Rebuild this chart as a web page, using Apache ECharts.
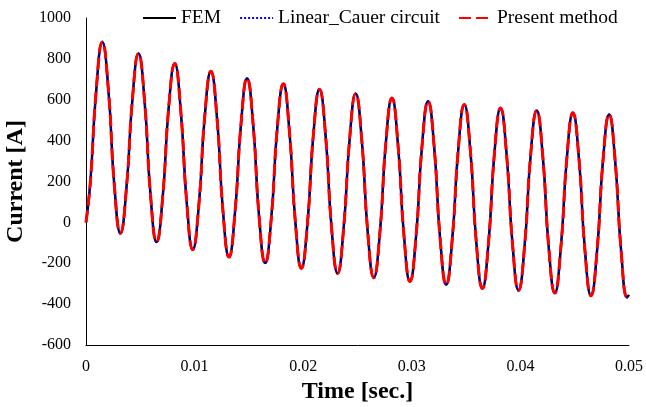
<!DOCTYPE html>
<html>
<head>
<meta charset="utf-8">
<script src="https://cdn.jsdelivr.net/npm/echarts@6/dist/echarts.min.js"></script>
<style>
html,body{margin:0;padding:0;background:#fff;}
#chart{width:646px;height:407px;}
</style>
</head>
<body>
<div id="chart"></div>
<script>
// Time samples [s]
const timeSec = [0, 0.00039, 0.00094, 0.00150, 0.00206, 0.00261, 0.00317, 0.00372, 0.00428, 0.00483, 0.00539, 0.00594, 0.00650, 0.00706, 0.00761, 0.00817, 0.00872, 0.00928, 0.00983, 0.01039, 0.01094, 0.01150, 0.01206, 0.01261, 0.01317, 0.01372, 0.01428, 0.01483, 0.01539, 0.01594, 0.01650, 0.01706, 0.01761, 0.01817, 0.01872, 0.01928, 0.01983, 0.02039, 0.02094, 0.02150, 0.02206, 0.02261, 0.02317, 0.02372, 0.02428, 0.02483, 0.02539, 0.02594, 0.02650, 0.02706, 0.02761, 0.02817, 0.02872, 0.02928, 0.02983, 0.03039, 0.03094, 0.03150, 0.03206, 0.03261, 0.03317, 0.03372, 0.03428, 0.03483, 0.03539, 0.03594, 0.03650, 0.03706, 0.03761, 0.03817, 0.03872, 0.03928, 0.03983, 0.04039, 0.04094, 0.04150, 0.04206, 0.04261, 0.04317, 0.04372, 0.04428, 0.04483, 0.04539, 0.04594, 0.04650, 0.04706, 0.04761, 0.04817, 0.04872, 0.04928, 0.04983, 0.05000];

// Current [A]
const femCurrent = [0, 190, 645, 883, 649, 180, -54, 166, 606, 826, 596, 135, -96, 122, 559, 777, 549, 94, -134, 85, 522, 740, 513, 58, -170, 49, 486, 705, 479, 27, -199, 20, 459, 678, 452, 1, -225, -6, 432, 651, 426, -25, -250, -30, 410, 630, 405, -46, -271, -51, 389, 609, 385, -65, -289, -69, 373, 593, 369, -81, -305, -85, 357, 577, 352, -98, -323, -102, 339, 560, 337, -110, -333, -113, 327, 547, 324, -123, -346, -126, 316, 536, 312, -135, -359, -137, 306, 528, 304, -143, -367, -355];
const cauerCurrent = [0, 190, 645, 883, 649, 180, -54, 166, 606, 826, 596, 135, -96, 122, 559, 777, 549, 94, -134, 85, 522, 740, 513, 58, -170, 49, 486, 705, 479, 27, -199, 20, 459, 678, 452, 1, -225, -6, 432, 651, 426, -25, -250, -30, 410, 630, 405, -46, -271, -51, 389, 609, 385, -65, -289, -69, 373, 593, 369, -81, -305, -85, 357, 577, 352, -98, -323, -102, 339, 560, 337, -110, -333, -113, 327, 547, 324, -123, -346, -126, 316, 536, 312, -135, -359, -137, 306, 528, 304, -143, -367, -355];
const presentCurrent = [0, 190, 645, 883, 649, 180, -54, 166, 606, 826, 596, 135, -96, 122, 559, 777, 549, 94, -134, 85, 522, 740, 513, 58, -170, 49, 486, 705, 479, 27, -199, 20, 459, 678, 452, 1, -225, -6, 432, 651, 426, -25, -250, -30, 410, 630, 405, -46, -271, -51, 389, 609, 385, -65, -289, -69, 373, 593, 369, -81, -305, -85, 357, 577, 352, -98, -323, -102, 339, 560, 337, -110, -333, -113, 327, 547, 324, -123, -346, -126, 316, 536, 312, -135, -359, -137, 306, 528, 304, -143, -367, -355];

const seriesNames = ['FEM', 'Linear_Cauer circuit', 'Present method'];
const xTicks = [0, 0.01, 0.02, 0.03, 0.04, 0.05];
const yTicks = [-600, -400, -200, 0, 200, 400, 600, 800, 1000];

const FONT = '"Liberation Serif", "Times New Roman", serif';
function pairs(vals) { return timeSec.map((t, i) => [t, vals[i]]); }

const chart = echarts.init(document.getElementById('chart'), null, {renderer: 'canvas'});
chart.setOption({
  animation: false,
  backgroundColor: '#fff',
  grid: {left: 86, right: 17, top: 18, bottom: 62, containLabel: false, outerBoundsMode: 'none'},
  legend: {
    data: seriesNames,
    left: 142, top: 8, padding: 0,
    itemWidth: 33, itemHeight: 14, itemGap: 18,
    itemStyle: {opacity: 0},
    textStyle: {fontFamily: FONT, fontSize: 19.5, color: '#000'}
  },
  xAxis: {
    type: 'value',
    min: xTicks[0], max: xTicks[xTicks.length - 1], interval: 0.01,
    name: 'Time [sec.]', nameLocation: 'middle', nameGap: 24,
    nameTextStyle: {fontFamily: FONT, fontSize: 24, fontWeight: 'bold', color: '#000'},
    axisLine: {show: true, onZero: false, lineStyle: {color: '#000', width: 1}},
    axisTick: {show: false},
    splitLine: {show: false},
    axisLabel: {fontFamily: FONT, fontSize: 16, color: '#000', margin: 14,
      formatter: v => String(+v.toFixed(2))}
  },
  yAxis: {
    type: 'value',
    min: yTicks[0], max: yTicks[yTicks.length - 1], interval: 200,
    name: 'Current [A]', nameLocation: 'middle', nameGap: 57,
    nameTextStyle: {fontFamily: FONT, fontSize: 24, fontWeight: 'bold', color: '#000'},
    axisLine: {show: true, lineStyle: {color: '#000', width: 1}},
    axisTick: {show: false},
    splitLine: {show: false},
    axisLabel: {fontFamily: FONT, fontSize: 16, color: '#000', margin: 15,
      formatter: v => String(v)}
  },
  series: [
    {name: seriesNames[0], type: 'line', data: pairs(femCurrent), symbol: 'none', smooth: 0.5,
      lineStyle: {color: '#000', width: 2.5, type: 'solid'}, itemStyle: {color: '#000'}, z: 2},
    {name: seriesNames[1], type: 'line', data: pairs(cauerCurrent), symbol: 'none', smooth: 0.5,
      lineStyle: {color: '#0000ff', width: 2, type: [2, 2]}, itemStyle: {color: '#0000ff'}, z: 3},
    {name: seriesNames[2], type: 'line', data: pairs(presentCurrent), symbol: 'none', smooth: 0.5,
      lineStyle: {color: '#ff0000', width: 3, type: [12, 5]}, itemStyle: {color: '#ff0000'}, z: 4}
  ]
});
</script>
</body>
</html>
